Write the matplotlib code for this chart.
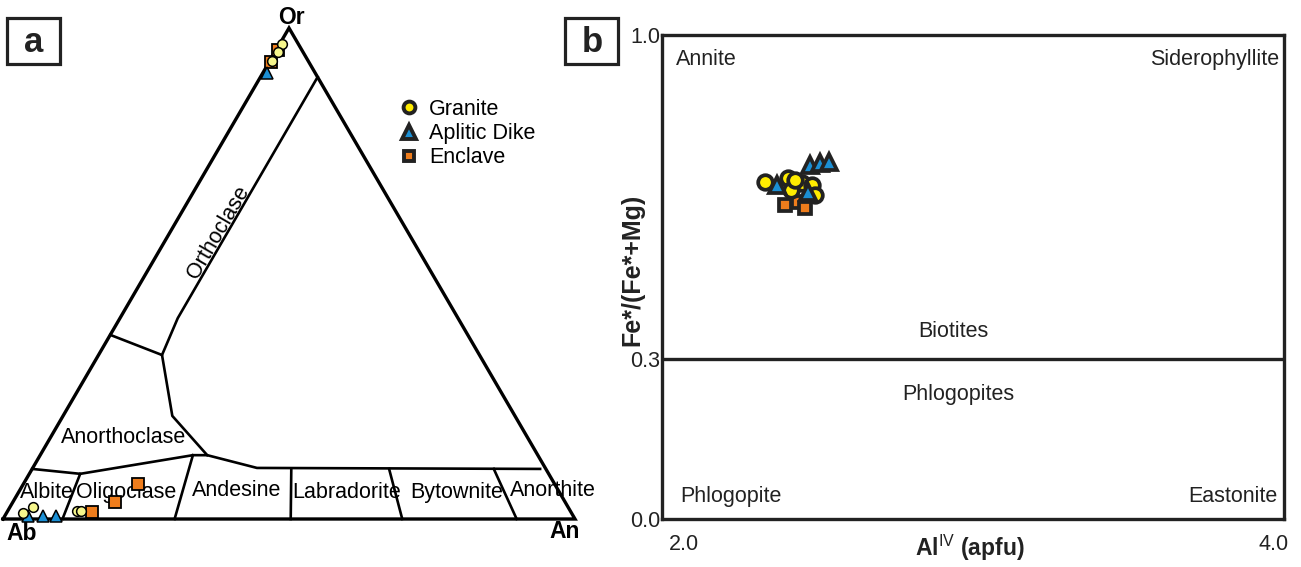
import numpy as np
import matplotlib
matplotlib.use('Agg')
import matplotlib.pyplot as plt
from matplotlib.lines import Line2D
from matplotlib.patches import Rectangle

plt.rcParams['font.family'] = ['Liberation Sans', 'DejaVu Sans']
plt.rcParams['mathtext.fontset'] = 'custom'
plt.rcParams['mathtext.rm'] = 'Liberation Sans'
plt.rcParams['mathtext.bf'] = 'Liberation Sans:bold'

# ------------------------- dados do painel a (feldspatos, % Or e % An; Ab = resto)
granito_or = [96.7, 95.1, 93.3, 1.2, 2.4, 1.6, 1.6]
granito_an = [0.5, 0.5, 0.4, 2.9, 4.0, 12.1, 12.8]
dique_or = [90.8, 0.6, 0.6, 0.6]
dique_an = [0.7, 4.1, 6.7, 9.0]
enclave_or = [95.5, 93.1, 1.4, 3.5, 7.1]
enclave_an = [0.3, 0.3, 14.9, 17.8, 20.0]

# limites dos campos (Or, An)
base_or = [10.2, 9.2, 13.0, 13.0, 10.4, 10.2]
base_an = [0.0, 8.9, 26.7, 29.2, 39.2, 88.8]
anortoclasio_or = [13.0, 21.0, 33.4, 37.5]
anortoclasio_an = [29.2, 19.1, 11.1, 0.0]
ortoclasio_or = [33.4, 40.9, 90.0]
ortoclasio_an = [11.1, 10.1, 10.0]
# divisores dos plagioclasios: topo (Or, An) -> base (Or = 0, An)
div_topo_or = [9.2, 13.0, 10.2, 10.2, 10.2]
div_topo_an = [8.9, 26.7, 45.3, 62.4, 80.7]
div_base_an = [10.4, 30.0, 50.3, 69.8, 89.8]

# ------------------------- dados do painel b (biotitas)
granito_al = [2.275, 2.353, 2.400, 2.363, 2.434, 2.444, 2.376]
granito_fe = [0.682, 0.691, 0.680, 0.665, 0.676, 0.654, 0.687]
dique_al = [2.315, 2.427, 2.461, 2.490, 2.420]
dique_fe = [0.676, 0.719, 0.723, 0.726, 0.661]
enclave_al = [2.342, 2.386, 2.410]
enclave_fe = [0.633, 0.639, 0.626]

amarelo = '#ffec00'
amarelo_claro = '#f6f68c'
azul = '#1b8fd4'
laranja = '#ef7d1c'
escuro = '#222222'

H = np.sqrt(3) / 2


def ternario(or_, an):
    or_ = np.asarray(or_, float) / 100
    an = np.asarray(an, float) / 100
    return an + or_ / 2, or_ * H


fig = plt.figure(figsize=(13.01, 5.67), dpi=100)

# ------------------------- painel a
ax1 = fig.add_axes([0, 0, 600 / 1301, 1])
ax1.set_xlim(-3 / 572, 597 / 572)
ax1.set_ylim(-48 / 491 * H, 519 / 491 * H)
ax1.axis('off')

# triangulo
ax1.plot([0, 1, 0.5, 0], [0, 0, H, 0], color='black', lw=2.4,
         solid_joinstyle='miter', zorder=2)

# campos
for lo, la in [(base_or, base_an), (anortoclasio_or, anortoclasio_an),
               (ortoclasio_or, ortoclasio_an)]:
    x, y = ternario(lo, la)
    ax1.plot(x, y, color='black', lw=1.9, zorder=1)
for to, ta, ba in zip(div_topo_or, div_topo_an, div_base_an):
    x, y = ternario([to, 0], [ta, ba])
    ax1.plot(x, y, color='black', lw=1.9, zorder=1)

fs = 15.5
ax1.text(0.376, 0.505, 'Orthoclase', rotation=59.7, ha='center', va='center', fontsize=fs)
ax1.text(0.2115, 0.143, 'Anorthoclase', ha='center', va='center', fontsize=fs)
ax1.text(0.077, 0.0476, 'Albite', ha='center', va='center', fontsize=fs)
ax1.text(0.215, 0.0476, 'Oligoclase', ha='center', va='center', fontsize=fs)
ax1.text(0.408, 0.051, 'Andesine', ha='center', va='center', fontsize=fs)
ax1.text(0.601, 0.0476, 'Labradorite', ha='center', va='center', fontsize=fs)
ax1.text(0.793, 0.046, 'Bytownite', ha='center', va='center', fontsize=fs)
ax1.text(0.9615, 0.051, 'Anorthite', ha='center', va='center', fontsize=fs)
ax1.text(0.5035, 0.8837, 'Or', ha='center', va='center', fontsize=16.5, fontweight='bold')
ax1.text(0.0332, -0.0247, 'Ab', ha='center', va='center', fontsize=16.5, fontweight='bold')
ax1.text(0.9825, -0.0212, 'An', ha='center', va='center', fontsize=16.5, fontweight='bold')

x, y = ternario(enclave_or, enclave_an)
ax1.plot(x, y, 's', ms=8.5, mfc=laranja, mec='black', mew=1.3, zorder=3)
x, y = ternario(dique_or, dique_an)
ax1.plot(x, y, '^', ms=9, mfc=azul, mec='black', mew=1.1, zorder=4)
x, y = ternario(granito_or, granito_an)
ax1.plot(x, y, 'o', ms=7, mfc=amarelo_claro, mec='black', mew=1.1, zorder=5)

legenda = [
    Line2D([], [], ls='none', marker='o', ms=8.5, mfc=amarelo, mec=escuro, mew=2.8, label='Granite'),
    Line2D([], [], ls='none', marker='^', ms=9.5, mfc=azul, mec=escuro, mew=2.8, label='Aplitic Dike'),
    Line2D([], [], ls='none', marker='s', ms=7, mfc=laranja, mec=escuro, mew=2.8, label='Enclave'),
]
ax1.legend(handles=legenda, loc='upper left', bbox_to_anchor=(398 / 600, (567 - 99) / 567),
           frameon=False, fontsize=fs, borderpad=0, handlelength=1.0, handletextpad=0.45,
           labelspacing=0.15, borderaxespad=0)

# ------------------------- painel b
ax2 = fig.add_axes([662 / 1301, 48 / 567, 622 / 1301, 484 / 567])


# eixo y da figura original nao e linear: 0.3 fica um pouco acima
def fwd(v):
    v = np.asarray(v, float)
    return np.where(v < 0.3, v * 1.102, 0.3306 + (v - 0.3) * 0.9563)


def inv(v):
    v = np.asarray(v, float)
    return np.where(v < 0.3306, v / 1.102, 0.3 + (v - 0.3306) / 0.9563)


ax2.set_yscale('function', functions=(fwd, inv))
ax2.set_xlim(1.925, 4.034)
ax2.set_ylim(0, 1)
ax2.set_xticks([2.0, 4.0])
ax2.set_xticklabels(['2.0', '4.0'])
ax2.set_yticks([0.0, 0.3, 1.0])
ax2.set_yticklabels(['0.0', '0.3', '1.0'])
ax2.yaxis.set_minor_locator(plt.NullLocator())
ax2.tick_params(axis='x', length=0, pad=11, labelsize=fs, colors='#222222')
ax2.tick_params(axis='y', length=0, pad=1.5, labelsize=fs, colors='#222222')
for s in ax2.spines.values():
    s.set_linewidth(2.4)
    s.set_color(escuro)

ax2.axhline(0.3, color=escuro, lw=2.4)

ax2.plot(enclave_al, enclave_fe, 's', ms=8.5, mfc=laranja, mec=escuro, mew=2.7, zorder=3)
ax2.plot(granito_al, granito_fe, 'o', ms=10.5, mfc=amarelo, mec=escuro, mew=2.7, zorder=4)
ax2.plot(dique_al, dique_fe, '^', ms=11.5, mfc=azul, mec=escuro, mew=2.7, zorder=5)

ax2.text(0.0225, 0.950, 'Annite', transform=ax2.transAxes, ha='left', va='center', fontsize=fs, color='#222222')
ax2.text(0.992, 0.950, 'Siderophyllite', transform=ax2.transAxes, ha='right', va='center', fontsize=fs, color='#222222')
ax2.text(0.468, 0.388, 'Biotites', transform=ax2.transAxes, ha='center', va='center', fontsize=fs, color='#222222')
ax2.text(0.476, 0.258, 'Phlogopites', transform=ax2.transAxes, ha='center', va='center', fontsize=fs, color='#222222')
ax2.text(0.029, 0.0475, 'Phlogopite', transform=ax2.transAxes, ha='left', va='center', fontsize=fs, color='#222222')
ax2.text(0.989, 0.0475, 'Eastonite', transform=ax2.transAxes, ha='right', va='center', fontsize=fs, color='#222222')

ax2.set_xlabel(r'Al$^{\mathrm{IV}}$ (apfu)', fontsize=16.5, fontweight='bold', va='center', color='#222222')
ax2.xaxis.set_label_coords(0.495, -0.060)
ax2.set_ylabel('Fe*/(Fe*+Mg)', fontsize=18, fontweight='bold', va='center', color='#222222')
ax2.yaxis.set_label_coords(-0.047, 0.514)

# caixas com as letras dos paineis
for x0, letra in [(7, 'a'), (565, 'b')]:
    fig.add_artist(Rectangle((x0 / 1301, (567 - 64) / 567), 53 / 1301, 46 / 567,
                             transform=fig.transFigure, fill=False, lw=2.3, ec=escuro))
    fig.text((x0 + 27) / 1301, 1 - 42 / 567, letra, ha='center', va='center',
             fontsize=25, fontweight='bold', color='#222222')

fig.savefig('out.png', dpi=100)
